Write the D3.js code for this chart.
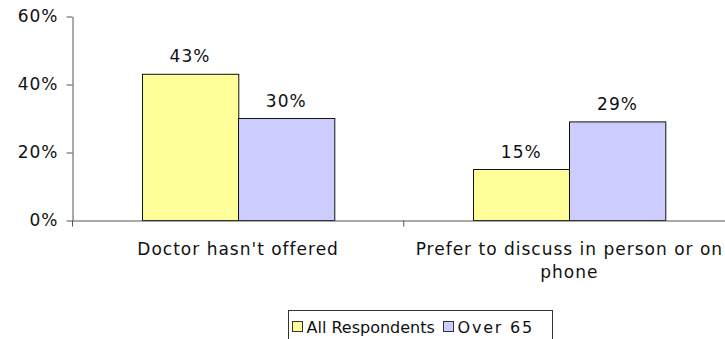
<!DOCTYPE html>
<html lang="en">
<head>
    <meta charset="UTF-8">
    <title>Bar chart</title>
    <script src="https://cdn.jsdelivr.net/npm/d3@7"></script>
    <style>
        body { margin: 0; background: #fff; font-family: 'DejaVu Sans', Verdana, sans-serif; }
        .axis path, .axis line { stroke: #555; }
        .axis text { font-size: 17px; letter-spacing: 1px; fill: #111; font-family: 'DejaVu Sans', Verdana, sans-serif; }
        .value-label { font-size: 17px; letter-spacing: 1px; fill: #111; text-anchor: middle; }
        .legend-text { font-size: 16px; fill: #111; }
    </style>
</head>
<body>
<div id="chart"></div>
<script>
    const categories = ["Doctor hasn't offered", 'Prefer to discuss in person or on phone'];
    const seriesNames = ['All Respondents', 'Over 65'];
    const allRespondents = [43, 15];
    const over65 = [30, 29];
    const yTicks = [0, 20, 40, 60];
    const colors = ['#ffff99', '#ccccff'];

    const width = 725, height = 339;
    const margin = { top: 16.5, right: -10, bottom: 118.5, left: 72.5 };

    const svg = d3.select('#chart').append('svg')
        .attr('width', width)
        .attr('height', height);

    const x = d3.scaleBand()
        .domain(categories)
        .range([margin.left, width - margin.right])
        .paddingInner(0)
        .paddingOuter(0);

    const x1 = d3.scaleBand()
        .domain(seriesNames)
        .range([0, x.bandwidth()])
        .paddingInner(0)
        .paddingOuter(0.72);

    const y = d3.scaleLinear()
        .domain([0, 60])
        .range([height - margin.bottom, margin.top]);

    const values = [allRespondents, over65];
    const rows = [];
    categories.forEach((c, i) => {
        seriesNames.forEach((s, j) => rows.push({ cat: c, series: s, value: values[j][i], color: colors[j] }));
    });

    // bars
    svg.selectAll('rect.bar')
        .data(rows)
        .enter().append('rect')
        .attr('class', 'bar')
        .attr('x', d => Math.round(x(d.cat) + x1(d.series)) + 0.5)
        .attr('y', d => y(d.value))
        .attr('width', x1.bandwidth())
        .attr('height', d => y(0) - y(d.value))
        .attr('fill', d => d.color)
        .attr('stroke', '#111')
        .attr('stroke-width', 1);

    svg.selectAll('text.value-label')
        .data(rows)
        .enter().append('text')
        .attr('class', 'value-label')
        .attr('x', d => x(d.cat) + x1(d.series) + x1.bandwidth() / 2)
        .attr('y', d => y(d.value) - 12)
        .text(d => d.value + '%');

    // y axis
    svg.append('g')
        .attr('class', 'axis')
        .attr('transform', `translate(${margin.left},0)`)
        .call(d3.axisLeft(y).tickValues(yTicks).tickFormat(d => d + '%').tickSize(6).tickSizeOuter(0).tickPadding(8));

    // x axis
    const xAxis = svg.append('g')
        .attr('class', 'axis')
        .attr('transform', `translate(0,${y(0)})`)
        .call(d3.axisBottom(x).tickSize(0).tickSizeOuter(0).tickPadding(22));

    // category boundary ticks
    xAxis.selectAll('line.bound')
        .data([margin.left, x(categories[1])])
        .enter().append('line')
        .attr('class', 'bound')
        .attr('x1', d => d).attr('x2', d => d)
        .attr('y1', 0).attr('y2', 6);

    xAxis.selectAll('.tick text').call(wrap, 310);

    function wrap(text, w) {
        text.each(function () {
            const t = d3.select(this);
            const words = t.text().split(/\s+/);
            const yy = t.attr('y');
            const dy = parseFloat(t.attr('dy'));
            t.text(null);
            let line = [];
            let lineNo = 0;
            let tspan = t.append('tspan').attr('x', 0).attr('y', yy).attr('dy', dy + 'em');
            words.forEach(word => {
                line.push(word);
                tspan.text(line.join(' '));
                if (tspan.node().getComputedTextLength() > w && line.length > 1) {
                    line.pop();
                    tspan.text(line.join(' '));
                    line = [word];
                    lineNo++;
                    tspan = t.append('tspan').attr('x', 0).attr('y', yy)
                        .attr('dy', (lineNo * 1.35 + dy) + 'em').text(word);
                }
            });
        });
    }

    // legend
    const legend = svg.append('g').attr('transform', 'translate(288.5,310.5)');
    legend.append('rect')
        .attr('width', 264).attr('height', 34)
        .attr('fill', '#fff').attr('stroke', '#333');
    const legendX = [4, 155];
    seriesNames.forEach((s, i) => {
        legend.append('rect')
            .attr('x', legendX[i]).attr('y', 11)
            .attr('width', 10).attr('height', 10)
            .attr('fill', colors[i]).attr('stroke', '#333');
        legend.append('text')
            .attr('class', 'legend-text')
            .attr('x', legendX[i] + 14).attr('y', 22)
            .attr('letter-spacing', i === 1 ? 1.8 : 0)
            .text(s);
    });
</script>
</body>
</html>
